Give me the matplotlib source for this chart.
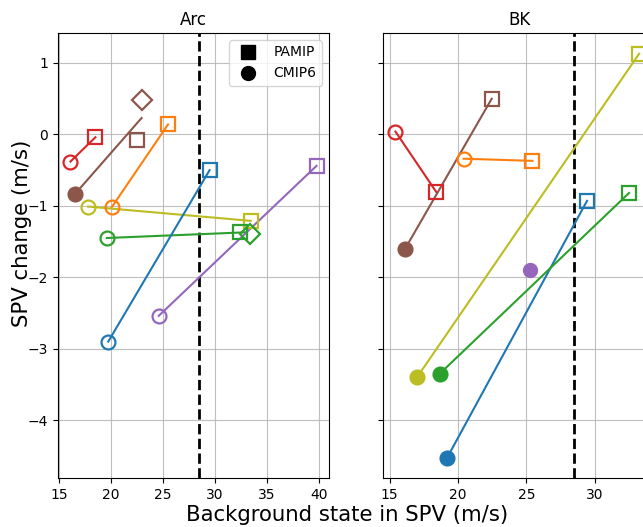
import matplotlib
matplotlib.use("Agg")
import matplotlib.pyplot as plt
from matplotlib.lines import Line2D

# ---------------- data ----------------
# Arc panel: CMIP6 (circle) -> PAMIP (square) per model colour
arc_colors = ["C3", "C5", "C1", "C8", "C2", "C0", "C4"]
arc_cmip_x = [16.1, 16.5, 20.07, 17.8, 19.6, 19.74, 24.6]
arc_cmip_y = [-0.38, -0.84, -1.02, -1.01, -1.45, -2.90, -2.54]
arc_cmip_filled = [False, True, False, False, False, False, False]
arc_line_end_x = [18.5, 22.95, 25.5, 33.46, 33.05, 29.5, 39.8]
arc_line_end_y = [-0.04, 0.23, 0.14, -1.21, -1.37, -0.50, -0.44]
arc_pamip_x = [18.5, 22.5, 25.5, 33.46, 32.4, 29.5, 39.8]
arc_pamip_y = [-0.04, -0.08, 0.14, -1.21, -1.36, -0.50, -0.44]
arc_diamond_colors = ["C5", "C2"]
arc_diamond_x = [22.95, 33.37]
arc_diamond_y = [0.48, -1.39]

# BK panel
bk_colors = ["C3", "C5", "C1", "C8", "C0", "C2"]
bk_cmip_x = [15.42, 16.1, 20.41, 17.0, 19.19, 18.66]
bk_cmip_y = [0.04, -1.61, -0.34, -3.40, -4.53, -3.35]
bk_cmip_filled = [False, True, False, True, True, True]
bk_pamip_x = [18.42, 22.46, 25.44, 33.24, 29.43, 32.5]
bk_pamip_y = [-0.81, 0.50, -0.37, 1.13, -0.93, -0.82]
bk_extra_colors = ["C4"]
bk_extra_x = [25.24]
bk_extra_y = [-1.90]

threshold = 28.5
titles = ["Arc", "BK"]
yticks = [1, 0, -1, -2, -3, -4]
xticks_arc = [15, 20, 25, 30, 35, 40]
xticks_bk = [15, 20, 25, 30]

# ---------------- figure ----------------
W, H = 643, 527
fig = plt.figure(figsize=(W / 100, H / 100), dpi=100)

def frac(left, top, right, bottom):
    return [left / W, 1 - bottom / H, (right - left) / W, (bottom - top) / H]

ax1 = fig.add_axes(frac(58, 33, 329, 478))
ax2 = fig.add_axes(frac(383, 33, 655, 478), sharey=ax1)

ms = 10
mew = 1.6
lw = 1.5

# Arc
for c, x0, y0, f, x1, y1, xp, yp in zip(arc_colors, arc_cmip_x, arc_cmip_y, arc_cmip_filled,
                                         arc_line_end_x, arc_line_end_y, arc_pamip_x, arc_pamip_y):
    ax1.plot([x0, x1], [y0, y1], color=c, lw=lw, zorder=3)
    ax1.plot(xp, yp, marker="s", ms=ms, mew=mew, color=c, fillstyle="none", ls="none", zorder=4)
    ax1.plot(x0, y0, marker="o", ms=ms, mew=mew, color=c,
             fillstyle="full" if f else "none", ls="none", zorder=4)
for c, xd, yd in zip(arc_diamond_colors, arc_diamond_x, arc_diamond_y):
    ax1.plot(xd, yd, marker="D", ms=ms, mew=mew, color=c, fillstyle="none", ls="none", zorder=4)

# BK
for c, x0, y0, f, xp, yp in zip(bk_colors, bk_cmip_x, bk_cmip_y, bk_cmip_filled, bk_pamip_x, bk_pamip_y):
    ax2.plot([x0, xp], [y0, yp], color=c, lw=lw, zorder=3)
    ax2.plot(xp, yp, marker="s", ms=ms, mew=mew, color=c, fillstyle="none", ls="none", zorder=4)
    ax2.plot(x0, y0, marker="o", ms=ms, mew=mew, color=c,
             fillstyle="full" if f else "none", ls="none", zorder=4)
for c, xe, ye in zip(bk_extra_colors, bk_extra_x, bk_extra_y):
    ax2.plot(xe, ye, marker="o", ms=ms, color=c, ls="none", zorder=4)

for ax, t in zip([ax1, ax2], titles):
    ax.axvline(threshold, color="black", ls="--", lw=2, zorder=2)
    ax.grid(True, color="#b0b0b0", lw=0.8, alpha=0.8)
    ax.set_axisbelow(True)
    ax.set_title(t, fontsize=12)
    ax.tick_params(labelsize=10)

ax1.set_xlim(14.9, 41.0)
ax1.set_xticks(xticks_arc)
ax2.set_xlim(14.51, 34.4)
ax2.set_xticks(xticks_bk)
ax1.set_ylim(-4.81, 1.42)
ax1.set_yticks(yticks)
ax2.tick_params(labelleft=False)

handles = [Line2D([], [], marker="s", color="black", ls="none", ms=ms),
           Line2D([], [], marker="o", color="black", ls="none", ms=ms)]
ax1.legend(handles, ["PAMIP", "CMIP6"], loc="upper right", fontsize=10)

fig.text(22 / W, 1 - 233 / H, "SPV change (m/s)", rotation=90, ha="center", va="center", fontsize=15.3)
fig.text(347 / W, 1 - 515 / H, "Background state in SPV (m/s)", ha="center", va="center", fontsize=15.3)

fig.savefig("out.png", dpi=100)
